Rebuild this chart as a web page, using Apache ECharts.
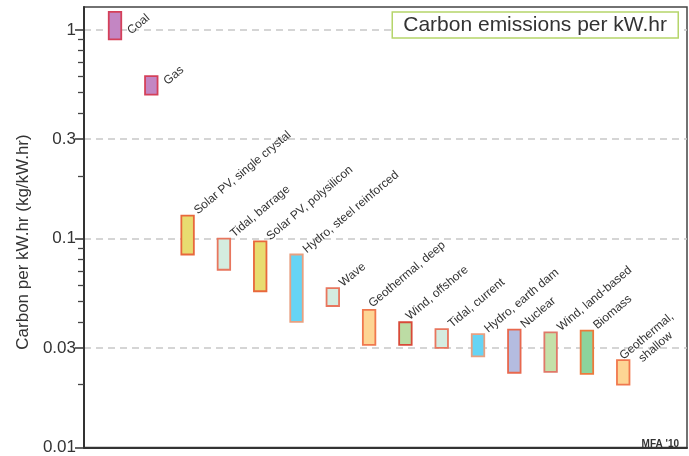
<!DOCTYPE html>
<html><head><meta charset="utf-8">
<script src="https://cdn.jsdelivr.net/npm/echarts@6/dist/echarts.min.js"></script>
<style>html,body{margin:0;padding:0;background:#fff}#c{width:689px;height:456px}</style>
</head><body><div id="c"></div>
<script>
// ---- data ----
const categories = ['Coal', 'Gas', 'Solar PV, single crystal', 'Tidal, barrage', 'Solar PV, polysilicon',
  'Hydro, steel reinforced', 'Wave', 'Geothermal, deep', 'Wind, offshore', 'Tidal, current',
  'Hydro, earth dam', 'Nuclear', 'Wind, land-based', 'Biomass', 'Geothermal,\nshallow'];
const lowValues  = [0.90, 0.49, 0.084, 0.071, 0.056, 0.040, 0.0476, 0.031, 0.031, 0.030, 0.0273, 0.0228, 0.023, 0.0225, 0.020];
const highValues = [1.22, 0.60, 0.129, 0.100, 0.097, 0.084, 0.058, 0.0456, 0.0398, 0.0369, 0.0349, 0.0367, 0.0356, 0.0363, 0.0262];
const majorTicks = [0.01, 0.03, 0.1, 0.3, 1];
const minorTicks = [0.02, 0.04, 0.05, 0.06, 0.07, 0.08, 0.09, 0.2, 0.4, 0.5, 0.6, 0.7, 0.8, 0.9];

// ---- styles ----
const fillColors = ['#c386c3', '#c386c3', '#e8dc70', '#d4ece0', '#e8dc70', '#66d4f4', '#d4ece0', '#fdd594',
  '#bcdca4', '#d4ece0', '#66d4f4', '#b4bce0', '#c4e0a8', '#8cd49c', '#fdd594'];
const strokeColors = ['#d4405a', '#d4405a', '#e8683c', '#e8765e', '#e8683c', '#e8a080', '#e8765e', '#f0784e',
  '#d84a38', '#e8765e', '#e8a080', '#e8684e', '#e07868', '#ec7a3c', '#f0784e'];
const labelOffsets = { 'Coal': [18, 25], 'Gas': [18, 11], 'Geothermal, deep': [5, 0], 'Wind, offshore': [6, 0], 'Geothermal,\nshallow': [2, 2] };
const defaultLabelOffset = [12, 1];
const FONT = '"Liberation Sans", Arial, Helvetica, sans-serif';
const labelFont = '12px ' + FONT;
const ANG = 40 * Math.PI / 180;
const mctx = document.createElement('canvas').getContext('2d');
mctx.font = labelFont;

const chart = echarts.init(document.getElementById('c'));

function renderItem(params, api) {
  const i = params.dataIndex;
  const x = api.value(0), lo = api.value(1), hi = api.value(2);
  const pTop = api.coord([x, hi]), pBot = api.coord([x, lo]);
  const w = 12.5;
  const children = [{
    type: 'rect',
    shape: { x: pTop[0] - w / 2, y: pTop[1], width: w, height: pBot[1] - pTop[1] },
    style: { fill: fillColors[i], stroke: strokeColors[i], lineWidth: 1.8 }
  }];
  const name = categories[i];
  const off = labelOffsets[name] || defaultLabelOffset;
  const lines = name.split('\n');
  const ax = pTop[0] + off[0], ay = pTop[1] + off[1];
  const maxW = Math.max.apply(null, lines.map(l => mctx.measureText(l).width));
  const lh = 14;
  const dir = [Math.cos(ANG), -Math.sin(ANG)], perp = [Math.sin(ANG), Math.cos(ANG)];
  lines.forEach((line, k) => {
    const lw = mctx.measureText(line).width;
    const shift = lines.length > 1 ? (maxW - lw) / 2 : 0;
    children.push({
      type: 'text',
      x: ax + dir[0] * shift + perp[0] * k * lh,
      y: ay + dir[1] * shift + perp[1] * k * lh,
      rotation: ANG,
      style: { text: line, font: labelFont, fill: '#333', align: 'left', verticalAlign: 'bottom' }
    });
  });
  return { type: 'group', children };
}

chart.setOption({
  animation: false,
  backgroundColor: '#fff',
  title: {
    text: 'Carbon emissions per kW.hr', right: 11, top: 12, padding: [3, 11, 2, 11],
    borderColor: '#b5d56a', borderWidth: 1.5, backgroundColor: '#fff',
    textStyle: { fontSize: 21, fontWeight: 'normal', color: '#333', fontFamily: FONT }
  },
  grid: { left: 84, right: 2, top: 7, bottom: 6, show: true, borderColor: '#444', borderWidth: 1.5 },
  xAxis: {
    type: 'value', min: -0.854, max: 15.757,
    axisLine: { show: true, onZero: false, lineStyle: { color: '#333', width: 2 } },
    axisTick: { show: false }, axisLabel: { show: false }, splitLine: { show: false }
  },
  yAxis: [{
    type: 'log', logBase: 10, min: 0.01, max: 1.287,
    axisLine: { show: true, onZero: false, lineStyle: { color: '#333', width: 2 } },
    axisTick: { show: true, customValues: majorTicks, length: 9, lineStyle: { color: '#333', width: 1.5 } },
    axisLabel: { customValues: majorTicks, formatter: v => String(+(+v).toPrecision(3)),
      fontSize: 17, color: '#333', margin: 8, fontFamily: FONT },
    splitLine: { show: true, lineStyle: { color: '#c8c8c8', type: [7, 5], width: 1.5 } }
  }, {
    type: 'log', logBase: 10, min: 0.01, max: 1.287, position: 'left',
    axisLine: { show: false, onZero: false }, axisLabel: { show: false }, splitLine: { show: false },
    axisTick: { show: true, customValues: minorTicks, length: 6, lineStyle: { color: '#444', width: 1.3 } }
  }],
  graphic: [{
    type: 'text', x: 23, y: 242, rotation: Math.PI / 2,
    style: { text: 'Carbon per kW.hr (kg/kW.hr)', font: '17px ' + FONT, fill: '#333', align: 'center', verticalAlign: 'middle' }
  }, {
    type: 'text', right: 10, bottom: 7,
    style: { text: "MFA '10", font: 'bold 10px ' + FONT, fill: '#333' }
  }],
  series: [{
    type: 'custom',
    xAxisIndex: 0, yAxisIndex: 0,
    renderItem: renderItem,
    encode: { x: 0, y: [1, 2] },
    data: categories.map((c, i) => [i, lowValues[i], highValues[i]])
  }]
});
</script>
</body></html>
